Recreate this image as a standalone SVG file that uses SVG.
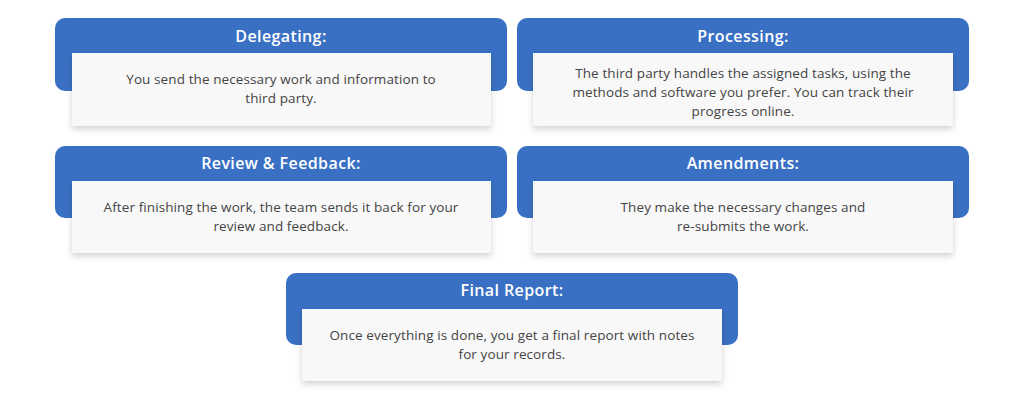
<svg xmlns="http://www.w3.org/2000/svg" width="1024" height="400" viewBox="0 0 1024 400">
<defs>
<filter id="sh" x="-10%" y="-20%" width="120%" height="150%">
<feDropShadow dx="0" dy="3" stdDeviation="3" flood-color="#000" flood-opacity="0.18"/>
</filter>
</defs>
<style>
.hd{fill:#3a70c4}
.pn{fill:#f8f8f8;filter:url(#sh)}
.tt{font-family:"Open Sans","Liberation Sans",sans-serif;font-size:16px;font-weight:600;letter-spacing:0.4px;fill:#ffffff;text-anchor:middle}
.bd{font-family:"Open Sans","Liberation Sans",sans-serif;font-size:13.5px;letter-spacing:0.1px;fill:#444444;text-anchor:middle}
</style>
<rect width="1024" height="400" fill="#ffffff"/>
<g id="delegating">
<rect class="hd" x="55" y="18" width="452" height="73" rx="10"/>
<rect class="pn" x="72" y="53" width="419" height="73"/>
<text class="tt" x="281" y="42">Delegating:</text>
<text class="bd" x="281" y="84">You send the necessary work and information to</text>
<text class="bd" x="281" y="103">third party.</text>
</g>
<g id="processing">
<rect class="hd" x="517" y="18" width="452" height="73" rx="10"/>
<rect class="pn" x="533" y="53" width="420" height="73"/>
<text class="tt" x="743" y="42">Processing:</text>
<text class="bd" x="743" y="78">The third party handles the assigned tasks, using the</text>
<text class="bd" x="743" y="97">methods and software you prefer. You can track their</text>
<text class="bd" x="743" y="116">progress online.</text>
</g>
<g id="review">
<rect class="hd" x="55" y="146" width="452" height="72" rx="10"/>
<rect class="pn" x="72" y="181" width="419" height="72"/>
<text class="tt" x="281" y="169">Review &amp; Feedback:</text>
<text class="bd" x="281" y="212">After finishing the work, the team sends it back for your</text>
<text class="bd" x="281" y="231">review and feedback.</text>
</g>
<g id="amendments">
<rect class="hd" x="517" y="146" width="452" height="72" rx="10"/>
<rect class="pn" x="533" y="181" width="420" height="72"/>
<text class="tt" x="743" y="169">Amendments:</text>
<text class="bd" x="743" y="212">They make the necessary changes and</text>
<text class="bd" x="743" y="231">re-submits the work.</text>
</g>
<g id="final">
<rect class="hd" x="286" y="273" width="452" height="72" rx="10"/>
<rect class="pn" x="302" y="309" width="420" height="72"/>
<text class="tt" x="512" y="296">Final Report:</text>
<text class="bd" x="512" y="340">Once everything is done, you get a final report with notes</text>
<text class="bd" x="512" y="359">for your records.</text>
</g>
<g id="connectors"/>
</svg>
